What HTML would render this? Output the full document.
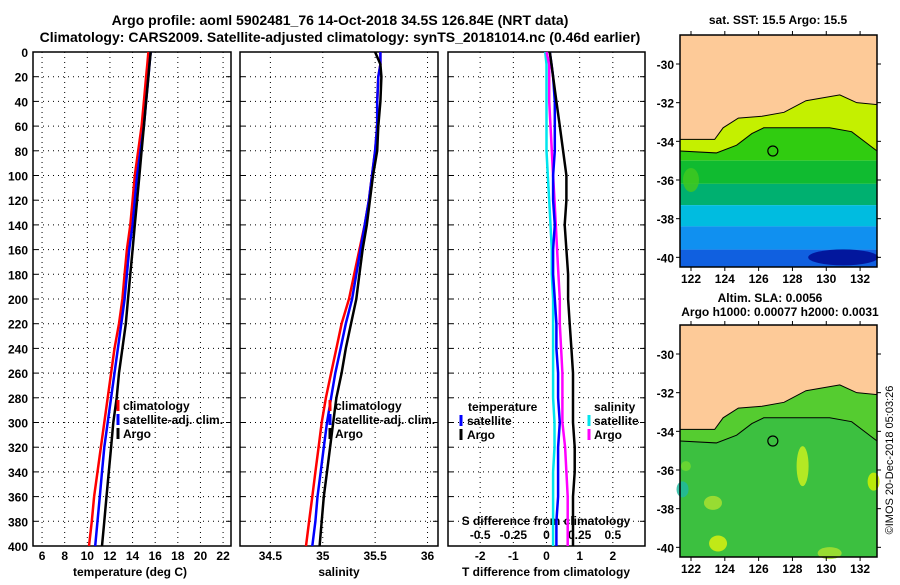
<!DOCTYPE html>
<html><head><meta charset="utf-8"><style>
body{margin:0;background:#fff;}
svg text{font-family:"Liberation Sans",Arial,sans-serif;font-weight:bold;fill:#000;}
</style></head><body>
<svg id="c" width="900" height="580" viewBox="0 0 900 580" xmlns="http://www.w3.org/2000/svg">
<text x="340" y="25" font-size="14" text-anchor="middle">Argo profile: aoml 5902481_76 14-Oct-2018 34.5S 126.84E (NRT data)</text>
<text x="340" y="42" font-size="14" text-anchor="middle">Climatology: CARS2009. Satellite-adjusted climatology: synTS_20181014.nc (0.46d earlier)</text>
<g id="plots"></g>
<text x="778" y="24" font-size="12" text-anchor="middle">sat. SST: 15.5 Argo: 15.5</text>
<text x="770" y="302" font-size="12" text-anchor="middle">Altim. SLA: 0.0056</text>
<text x="780" y="316" font-size="12" text-anchor="middle">Argo h1000: 0.00077 h2000: 0.0031</text>
<text transform="translate(893,460) rotate(-90)" font-size="11" text-anchor="middle" style="font-weight:normal">©IMOS 20-Dec-2018 05:03:26</text>
</svg>
<script>
// ---- data ----
const depths = [0,10,20,40,60,80,100,120,140,160,180,200,220,240,260,280,300,320,340,360,380,400];
const tempClim = [15.4,15.3,15.2,15.0,14.8,14.5,14.2,14.0,13.8,13.5,13.3,13.1,12.8,12.4,12.1,11.8,11.5,11.2,10.9,10.6,10.4,10.15];
const tempSat  = [15.6,15.5,15.4,15.2,15.0,14.7,14.4,14.2,14.0,13.7,13.5,13.3,13.0,12.7,12.4,12.1,11.8,11.5,11.3,11.1,10.9,10.7];
const tempArgo = [15.6,15.5,15.4,15.2,15.0,14.8,14.6,14.4,14.2,14.0,13.8,13.6,13.4,13.1,12.8,12.6,12.3,12.1,11.9,11.7,11.5,11.3];
const salClim = [35.55,35.55,35.53,35.52,35.52,35.50,35.47,35.44,35.40,35.35,35.30,35.25,35.18,35.13,35.08,35.03,34.99,34.96,34.93,34.90,34.87,34.84];
const salSat  = [35.55,35.55,35.53,35.52,35.52,35.50,35.47,35.44,35.40,35.36,35.32,35.28,35.22,35.17,35.12,35.08,35.04,35.01,34.98,34.95,34.93,34.90];
const salArgo = [35.50,35.55,35.56,35.55,35.53,35.52,35.48,35.45,35.42,35.38,35.35,35.32,35.27,35.22,35.18,35.13,35.10,35.07,35.04,35.01,34.99,34.97];
const dTsat  = [0.1,0.15,0.2,0.25,0.25,0.25,0.2,0.2,0.25,0.2,0.2,0.25,0.3,0.3,0.35,0.35,0.4,0.35,0.35,0.35,0.3,0.3];
const dTargo = [0.1,0.15,0.2,0.3,0.4,0.5,0.6,0.6,0.55,0.6,0.65,0.65,0.7,0.75,0.8,0.8,0.8,0.85,0.85,0.8,0.8,0.8];
const dSsat  = [-0.01,0.0,0.0,0.0,0.0,0.0,0.01,0.02,0.03,0.04,0.04,0.05,0.05,0.05,0.05,0.05,0.06,0.06,0.05,0.05,0.05,0.05];
const dSargo = [0.0,0.02,0.02,0.02,0.03,0.04,0.05,0.06,0.07,0.08,0.09,0.1,0.1,0.11,0.12,0.12,0.12,0.14,0.15,0.16,0.16,0.16];
const tempTicks = [6,8,10,12,14,16,18,20,22];
const salTicks = [34.5,35,35.5,36];
const dTTicks = [-2,-1,0,1,2];
const dSTicks = [-0.5,-0.25,0,0.25,0.5];
const depthTicks = [0,20,40,60,80,100,120,140,160,180,200,220,240,260,280,300,320,340,360,380,400];
const lonTicks = [122,124,126,128,130,132];
const latTicks = [-30,-32,-34,-36,-38,-40];

const NS="http://www.w3.org/2000/svg";
const G=document.getElementById('plots');
function el(t,a,p){const e=document.createElementNS(NS,t);for(const k in a)e.setAttribute(k,a[k]);(p||G).appendChild(e);return e;}
const top0=52,bot0=546;
const yD=d=>top0+(d/400)*(bot0-top0);

function panel(name,x0,x1,xmin,xmax,ticks){
  const g=el('g',{});
  
  
  const sx=v=>x0+(v-xmin)/(xmax-xmin)*(x1-x0);
  ticks.forEach(t=>{const l=el('line',{x1:sx(t),x2:sx(t),y1:top0,y2:bot0,stroke:'#000','stroke-dasharray':'1,4','stroke-width':1},g);
    });
  depthTicks.forEach(d=>{if(d>0&&d<400){const l=el('line',{x1:x0,x2:x1,y1:yD(d),y2:yD(d),stroke:'#000','stroke-dasharray':'1,4','stroke-width':1},g);
    }
    el('line',{x1:x0,x2:x0+5,y1:yD(d),y2:yD(d),stroke:'#000'},g);el('line',{x1:x1-5,x2:x1,y1:yD(d),y2:yD(d),stroke:'#000'},g);});
  const r=el('rect',{x:x0,y:top0,width:x1-x0,height:bot0-top0,fill:'none',stroke:'#000','stroke-width':1.5},g);
  
  return {g,sx};
}
function series(p,xs,col,name,w){
  const pts=depths.map((d,i)=>p.sx(xs[i]).toFixed(1)+','+yD(d).toFixed(1)).join(' ');
  const l=el('polyline',{points:pts,fill:'none',stroke:col,'stroke-width':w||2.5},p.g);
  
}
function txt(x,y,s,size,anchor,name,parent){const t=el('text',{x:x,y:y,'font-size':size,'text-anchor':anchor||'start'},parent);t.textContent=s;
  return t;}
function legTick(x,y,col,parent){const l=el('line',{x1:x,x2:x,y1:y-10,y2:y+1,stroke:col,'stroke-width':3},parent);}

const p1=panel('temperature-panel',33,231,5.2,22.7,tempTicks);
depthTicks.forEach(d=>txt(28,yD(d)+5,String(d),12,'end','y-tick-label',p1.g));
tempTicks.forEach(t=>txt(p1.sx(t),560,String(t),12,'middle','x-tick-label',p1.g));
txt(130,576,'temperature (deg C)',12,'middle','x-axis-title',p1.g);
series(p1,tempClim,'#ff0000','climatology-line');
series(p1,tempSat,'#0000ff','satellite-adj-line');
series(p1,tempArgo,'#000000','argo-line');
[['climatology','#ff0000'],['satellite-adj. clim.','#0000ff'],['Argo','#000']].forEach((e,i)=>{legTick(118,410+i*14,e[1],p1.g);txt(123,410+i*14,e[0],12,'start','legend-entry',p1.g);});

const p2=panel('salinity-panel',240,438,34.21,36.1,salTicks);
salTicks.forEach(t=>txt(p2.sx(t),560,String(t),12,'middle','x-tick-label',p2.g));
txt(339,576,'salinity',12,'middle','x-axis-title',p2.g);
series(p2,salClim,'#ff0000','climatology-line');
series(p2,salSat,'#0000ff','satellite-adj-line');
series(p2,salArgo,'#000000','argo-line');
[['climatology','#ff0000'],['satellite-adj. clim.','#0000ff'],['Argo','#000']].forEach((e,i)=>{legTick(330,410+i*14,e[1],p2.g);txt(335,410+i*14,e[0],12,'start','legend-entry',p2.g);});

const p3=panel('difference-panel',448,645,-2.97,2.97,dTTicks);
const sxS=v=>p3.sx(v*4);
dTTicks.forEach(t=>txt(p3.sx(t),560,String(t),12,'middle','t-diff-tick-label',p3.g));
dSTicks.forEach(t=>txt(sxS(t),539,String(t),12,'middle','s-diff-tick-label',p3.g));
txt(546,525,'S difference from climatology',12,'middle','s-diff-axis-title',p3.g);
txt(546,576,'T difference from climatology',12,'middle','t-diff-axis-title',p3.g);
series(p3,dSsat.map(v=>v*4),'#00e5ee','salinity-satellite-diff-line');
series(p3,dSargo.map(v=>v*4),'#ff00ff','salinity-argo-diff-line');
series(p3,dTsat,'#0000ff','temperature-satellite-diff-line');
series(p3,dTargo,'#000000','temperature-argo-diff-line');
txt(468,411,'temperature',12,'start','legend-title-temperature',p3.g);
txt(594,411,'salinity',12,'start','legend-title-salinity',p3.g);
legTick(461,425,'#0000ff',p3.g);txt(467,425,'satellite',12,'start','legend-entry',p3.g);
legTick(461,439,'#000',p3.g);txt(467,439,'Argo',12,'start','legend-entry',p3.g);
legTick(589,425,'#00e5ee',p3.g);txt(594,425,'satellite',12,'start','legend-entry',p3.g);
legTick(589,439,'#ff00ff',p3.g);txt(594,439,'Argo',12,'start','legend-entry',p3.g);

const mx0=680,mx1=877,lonMin=121.35,lonMax=133.0;
const coast=[[121.35,-33.9],[123.4,-33.9],[123.9,-33.3],[124.8,-32.8],[126.2,-32.7],[127.5,-32.5],[128.8,-31.9],[130.8,-31.6],[131.8,-32.0],[133,-32.1]];
const contour=[[121.35,-34.5],[123.5,-34.6],[124.7,-34.2],[125.6,-33.6],[126.3,-33.3],[130.2,-33.3],[131.5,-33.5],[132.4,-34.1],[133,-34.5]];
function map(name,yt,yb,latMax,bands,blobs){
  const g=el('g',{});
  const sx=v=>mx0+(v-lonMin)/(lonMax-lonMin)*(mx1-mx0);
  const sy=v=>yt+(latMax-v)/(latMax+40.5)*(yb-yt);
  bands.forEach(b=>el('rect',{x:mx0,y:sy(b[0]),width:mx1-mx0,height:sy(b[1])-sy(b[0]),fill:b[2]},g));
  blobs.forEach(b=>el('ellipse',{cx:sx(b[0]),cy:sy(b[1]),rx:b[2],ry:b[3],fill:b[4],opacity:0.85},g));
  const shelf=coast.map(p=>sx(p[0])+','+sy(p[1])).concat(contour.slice().reverse().map(p=>sx(p[0])+','+sy(p[1]))).join(' ');
  el('polygon',{points:shelf,fill:bands.shelf},g);
  el('polyline',{points:contour.map(p=>sx(p[0])+','+sy(p[1])).join(' '),fill:'none',stroke:'#000','stroke-width':1},g);
  const land=[[121.35,latMax],[133,latMax]].concat(coast.slice().reverse()).map(p=>sx(p[0])+','+sy(p[1])).join(' ');
  const lp=el('polygon',{points:land,fill:'#fdca98',stroke:'#000','stroke-width':1},g);
  
  const c=el('circle',{cx:sx(126.84),cy:sy(-34.5),r:5,fill:'none',stroke:'#000','stroke-width':1.2},g);
  
  el('rect',{x:mx0,y:yt,width:mx1-mx0,height:yb-yt,fill:'none',stroke:'#000','stroke-width':1.5},g);
  lonTicks.forEach(t=>{el('line',{x1:sx(t),x2:sx(t),y1:yt-4,y2:yt,stroke:'#000'},g);el('line',{x1:sx(t),x2:sx(t),y1:yb,y2:yb+4,stroke:'#000'},g);
    txt(sx(t),yb+16,String(t),12,'middle','lon-tick-label',g);});
  latTicks.forEach(t=>{el('line',{x1:mx0-4,x2:mx0,y1:sy(t),y2:sy(t),stroke:'#000'},g);el('line',{x1:mx1,x2:mx1+4,y1:sy(t),y2:sy(t),stroke:'#000'},g);
    txt(mx0-6,sy(t)+5,String(t),12,'end','lat-tick-label',g);});
}
const sstBands=[[-28.5,-35,'#30cc10'],[-35,-36.2,'#10bb30'],[-36.2,-37.3,'#00b070'],[-37.3,-38.4,'#00bce0'],[-38.4,-39.6,'#1090f0'],[-39.6,-40.5,'#1060e0']];
sstBands.shelf='#c4f000';
map('sst-map',35,267,-28.5,sstBands,[[131,-40,35,8,'#000a90'],[122,-36,8,12,'#40c820']]);
const slaBands=[[-28.5,-40.5,'#3cc040']];
slaBands.shelf='#55cc30';
map('sla-map',325,557,-28.5,slaBands,[[128.6,-35.8,6,20,'#c8f020'],[132.8,-36.6,6,9,'#d0f000'],[123.3,-37.7,9,7,'#a8e030'],[123.6,-39.8,9,8,'#d8f010'],[121.5,-37,6,8,'#20b8a0'],[130.2,-40.3,12,6,'#a8e030'],[121.7,-35.8,5,5,'#70d830']]);
</script>
</body></html>
